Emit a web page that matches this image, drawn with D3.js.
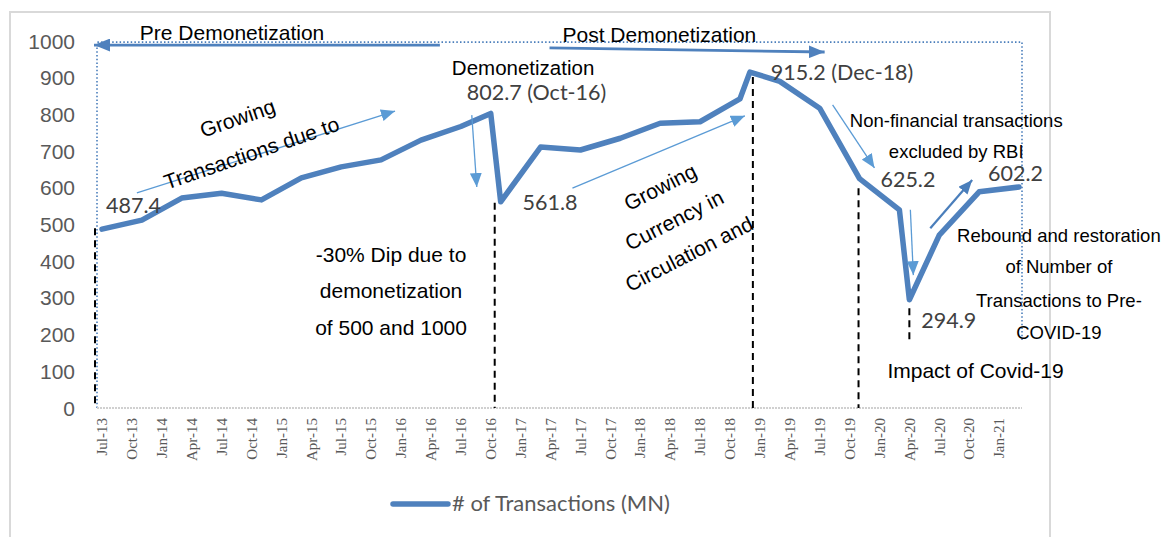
<!DOCTYPE html>
<html>
<head>
<meta charset="utf-8">
<script src="https://cdn.jsdelivr.net/npm/d3@7"></script>
<style>
  body { margin: 0; background: #fff; }
</style>
</head>
<body>
<script>
// series (months where Excel placed the points, transactions in MN)
const dates = ["Jul-13", "Nov-13", "Mar-14", "Jul-14", "Nov-14", "Mar-15", "Jul-15", "Nov-15",
    "Mar-16", "Jul-16", "Oct-16", "Nov-16", "Mar-17", "Jul-17", "Nov-17", "Mar-18", "Jul-18",
    "Nov-18", "Dec-18", "Mar-19", "Jul-19", "Nov-19", "Mar-20", "Apr-20", "Jul-20", "Nov-20", "Mar-21"];
const transactions = [487.4, 512, 572, 585, 567, 627, 657, 676, 730, 767, 802.7, 561.8, 711, 703,
    735, 776, 780, 842, 915.2, 890, 817, 625.2, 540, 294.9, 471, 589, 602.2];

const tickLabels = ["Jul-13", "Oct-13", "Jan-14", "Apr-14", "Jul-14", "Oct-14", "Jan-15", "Apr-15",
    "Jul-15", "Oct-15", "Jan-16", "Apr-16", "Jul-16", "Oct-16", "Jan-17", "Apr-17", "Jul-17",
    "Oct-17", "Jan-18", "Apr-18", "Jul-18", "Oct-18", "Jan-19", "Apr-19", "Jul-19", "Oct-19",
    "Jan-20", "Apr-20", "Jul-20", "Oct-20", "Jan-21"];
const yTicks = [0, 100, 200, 300, 400, 500, 600, 700, 800, 900, 1000];
const seriesName = "# of Transactions (MN)";

const W = 1163, H = 537;
const sans = "'Liberation Sans', Arial, sans-serif";
const labelFont = "Lato, 'Open Sans', sans-serif";
const parse = d3.timeParse("%b-%y");
const start = parse(dates[0]);
const monthIdx = s => d3.timeMonth.count(start, parse(s));

const x = d3.scaleLinear().domain([-0.5, 92.3]).range([97, 1022]);
const y = d3.scaleLinear().domain([0, 1000]).range([408, 41]);

const svg = d3.select("body").append("svg")
    .attr("width", W).attr("height", H)
    .attr("font-family", sans);

const defs = svg.append("defs");
function marker(id, color, len, wid) {
    defs.append("marker")
        .attr("id", id)
        .attr("markerUnits", "userSpaceOnUse")
        .attr("viewBox", `0 0 ${len} ${wid}`)
        .attr("refX", len).attr("refY", wid / 2)
        .attr("markerWidth", len).attr("markerHeight", wid)
        .attr("orient", "auto")
        .append("path")
        .attr("d", `M0,0L${len},${wid / 2}L0,${wid}Z`)
        .attr("fill", color);
}
marker("headBig", "#4f81bd", 16, 13);
marker("headThin", "#5b9bd5", 14, 12);
marker("headMid", "#4a7ebb", 14, 12);

// chart frame
svg.append("rect")
    .attr("x", 10).attr("y", 12).attr("width", 1040).attr("height", 560)
    .attr("fill", "none").attr("stroke", "#d9d9d9").attr("stroke-width", 2);

// dotted blue period box
svg.append("path")
    .attr("d", `M${x(-0.5)},${y(0)}V${y(997)}H${x(92.3)}V${y(185)}`)
    .attr("fill", "none").attr("stroke", "#4a7ebb")
    .attr("stroke-width", 1.6).attr("stroke-dasharray", "1.5,2.2");

// y labels
svg.append("g").selectAll("text")
    .data(yTicks)
    .join("text")
    .attr("x", 75).attr("y", d => y(d))
    .attr("dy", "0.36em")
    .attr("text-anchor", "end")
    .attr("font-size", 21)
    .attr("fill", "#595959")
    .text(d => d);

// x axis baseline + rotated labels
svg.append("line")
    .attr("x1", x(-0.5)).attr("x2", x(92.3))
    .attr("y1", y(0)).attr("y2", y(0))
    .attr("stroke", "#d0d0d0").attr("stroke-width", 2)
    .attr("stroke-dasharray", "2,1");

svg.append("g").selectAll("text")
    .data(tickLabels)
    .join("text")
    .attr("transform", d => `translate(${x(monthIdx(d))},418) rotate(-90)`)
    .attr("dy", "0.35em")
    .attr("text-anchor", "end")
    .attr("font-family", "'Liberation Serif', 'Times New Roman', serif")
    .attr("font-size", 15)
    .attr("fill", "#595959")
    .text(d => d);

// dashed guide lines [month, top value, bottom value]
const guides = [[-0.7, 490, 0], [39.4, 559, 0], [65.3, 902, 0], [75.9, 599, 0], [81, 272, 180]];
svg.append("g").selectAll("line")
    .data(guides)
    .join("line")
    .attr("x1", d => x(d[0])).attr("x2", d => x(d[0]))
    .attr("y1", d => y(d[1])).attr("y2", d => y(d[2]))
    .attr("stroke", "#000").attr("stroke-width", 2)
    .attr("stroke-dasharray", "7,5");

// main series
const pts = dates.map((d, i) => ({ m: monthIdx(d), v: transactions[i] }));
svg.append("path")
    .datum(pts)
    .attr("d", d3.line().x(d => x(d.m)).y(d => y(d.v)))
    .attr("fill", "none")
    .attr("stroke", "#4f81bd")
    .attr("stroke-width", 5.5)
    .attr("stroke-linejoin", "round")
    .attr("stroke-linecap", "round");

// annotation arrows, in [month, value]
const arrows = [
    { from: [33.9, 989], to: [-0.8, 989], kind: "big" },
    { from: [44.9, 981], to: [72.5, 970], kind: "big" },
    { from: [3.5, 586], to: [29.4, 809], kind: "thin" },
    { from: [37.1, 798], to: [37.6, 602], kind: "thin" },
    { from: [47.2, 599], to: [64.5, 796], kind: "thin" },
    { from: [73.3, 826], to: [77.5, 654], kind: "thin" },
    { from: [81.1, 540], to: [81.4, 362], kind: "thin" },
    { from: [83.1, 490], to: [87.3, 621], kind: "mid" }
];
const arrowStyle = {
    big: { color: "#4f81bd", width: 2.8, head: "headBig" },
    thin: { color: "#5b9bd5", width: 1.3, head: "headThin" },
    mid: { color: "#4a7ebb", width: 2.2, head: "headMid" }
};
svg.append("g").selectAll("line")
    .data(arrows)
    .join("line")
    .attr("x1", d => x(d.from[0])).attr("y1", d => y(d.from[1]))
    .attr("x2", d => x(d.to[0])).attr("y2", d => y(d.to[1]))
    .attr("stroke", d => arrowStyle[d.kind].color)
    .attr("stroke-width", d => arrowStyle[d.kind].width)
    .attr("marker-end", d => `url(#${arrowStyle[d.kind].head})`);

// data labels [text, month, value]
const valueLabels = [
    ["802.7 (Oct-16)", 36.6, 840], ["915.2 (Dec-18)", 67.1, 894], ["487.4", 0.4, 531],
    ["561.8", 42.2, 540], ["625.2", 78.1, 602], ["602.2", 88.9, 618], ["294.9", 82.2, 218]
];
svg.append("g").selectAll("text")
    .data(valueLabels)
    .join("text")
    .attr("x", d => x(d[1])).attr("y", d => y(d[2]))
    .attr("font-family", labelFont)
    .attr("font-size", 21.5)
    .attr("fill", "#404040")
    .text(d => d[0]);

// black annotation text [text, month, value, anchor, size]
const notes = [
    ["Pre Demonetization", 3.8, 1003, "start", 21],
    ["Post Demonetization", 46.2, 997, "start", 21],
    ["Demonetization", 35.1, 906, "start", 20.5],
    ["-30% Dip due to", 29, 398, "middle", 21],
    ["demonetization", 29, 300, "middle", 21],
    ["of 500 and 1000", 29, 199, "middle", 21],
    ["Non-financial transactions", 85.7, 765, "middle", 18.5],
    ["excluded by RBI", 85.7, 682, "middle", 18.5],
    ["Rebound and restoration", 96, 452, "middle", 18.5],
    ["of Number of", 96, 368, "middle", 18.5],
    ["Transactions to Pre-", 96, 275, "middle", 18.5],
    ["COVID-19", 96, 188, "middle", 18.5],
    ["Impact of Covid-19", 78.8, 82, "start", 21]
];
svg.append("g").selectAll("text")
    .data(notes)
    .join("text")
    .attr("x", d => x(d[1])).attr("y", d => y(d[2]))
    .attr("text-anchor", d => d[3])
    .attr("font-size", d => d[4])
    .attr("fill", "#000")
    .text(d => d[0]);

// slanted notes [text, month, value, angle]
const slanted = [
    ["Growing", 13.6, 790, -19],
    ["Transactions due to", 15.0, 695, -19],
    ["Growing", 56, 602, -27],
    ["Currency in", 57.4, 512, -27],
    ["Circulation and", 58.9, 420, -27]
];
svg.append("g").selectAll("text")
    .data(slanted)
    .join("text")
    .attr("transform", d => `translate(${x(d[1])},${y(d[2])}) rotate(${d[3]})`)
    .attr("dy", "0.35em")
    .attr("text-anchor", "middle")
    .attr("font-size", 21)
    .attr("fill", "#000")
    .text(d => d[0]);

// legend
const legend = svg.append("g").attr("transform", "translate(393,504)");
legend.append("line")
    .attr("x1", 0).attr("x2", 55)
    .attr("stroke", "#4f81bd").attr("stroke-width", 5.5)
    .attr("stroke-linecap", "round");
legend.append("text")
    .attr("x", 59).attr("y", 7)
    .attr("font-family", labelFont)
    .attr("font-size", 22)
    .attr("fill", "#595959")
    .text(seriesName);
</script>
</body>
</html>
